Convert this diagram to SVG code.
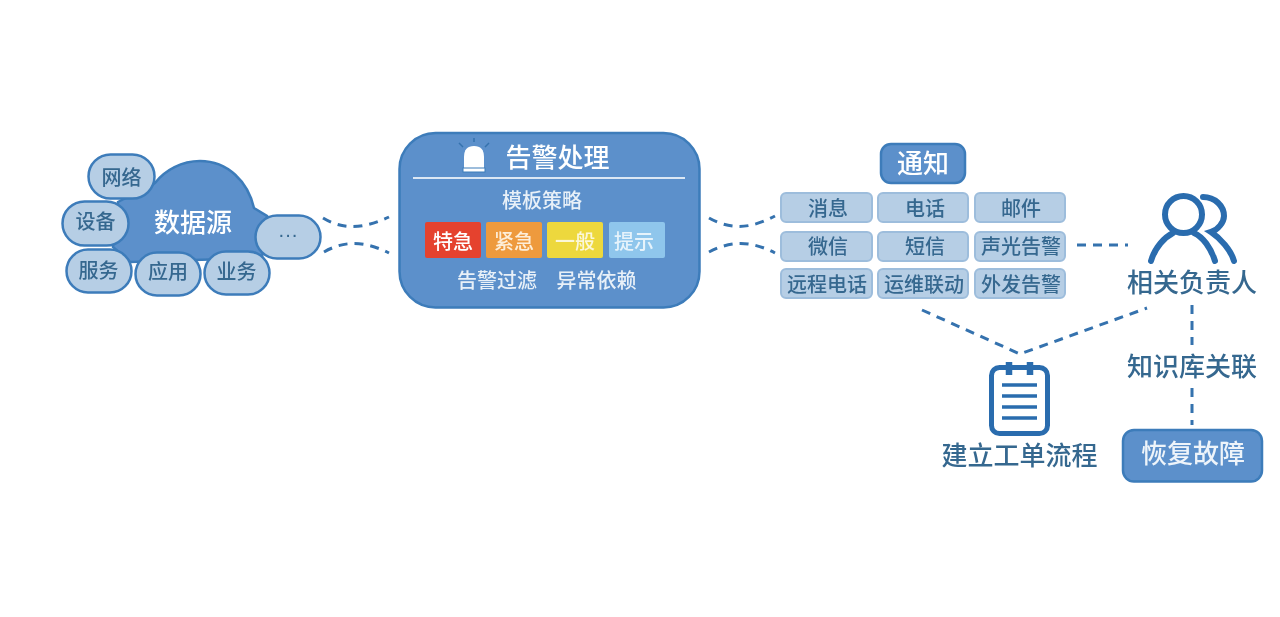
<svg xmlns="http://www.w3.org/2000/svg" width="1280" height="617" viewBox="0 0 1280 617">
<style>
text{font-family:"Noto Sans CJK SC","Liberation Sans",sans-serif;text-anchor:middle;dominant-baseline:central;font-weight:500}
.bub{fill:#b6cee5;stroke:#3d7cba;stroke-width:2.500}
.cell{fill:#b6cee5;stroke:#9dbddc;stroke-width:2}
.dk{fill:#36678f}
.wt{fill:#fff}
.s20{font-size:20px}
.s26{font-size:26px}
.dash{fill:none;stroke:#3572ae;stroke-width:3;stroke-dasharray:9 7}
.ic{fill:none;stroke:#2a6cae;stroke-width:6;stroke-linecap:round}
.ln{fill:none;stroke:#2a6cae;stroke-width:3.500}
</style>
<defs><filter id="soft" filterUnits="userSpaceOnUse" x="0" y="0" width="1280" height="617"><feGaussianBlur stdDeviation="0.6"/></filter></defs>
<rect width="1280" height="617" fill="#fff"/>
<g filter="url(#soft)">
<g id="connectors">
<path class="dash" d="M323,218C345,231 365,228 389,217"/>
<path class="dash" d="M324,252C345,240 365,241 389,253"/>
<path class="dash" d="M709,218C732,231 752,228 775,216"/>
<path class="dash" d="M709,252C732,240 752,241 775,253"/>
<path class="dash" d="M1077,245H1128"/>
<path class="dash" d="M922,310L1020,354L1147,308"/>
<path class="dash" d="M1192,305V345"/>
<path class="dash" d="M1192,388V425"/>
</g>
<g id="source">
<path d="M113,247L118,202C130,195 142,192 155,183C165,170 182,161 200,161C228,161 248,182 254,208L267,216L262,258L130,262Z" fill="#5b90cb" stroke="#3d7cba" stroke-width="2.500"/>
<text class="wt s26" x="193" y="220">数据源</text>
</g>
<g id="n-network"><rect class="bub" x="88.500" y="154.500" width="66" height="44" rx="22"/><text class="dk s20" x="121.500" y="176">网络</text></g>
<g id="n-device"><rect class="bub" x="62.500" y="201.500" width="66" height="44" rx="22"/><text class="dk s20" x="95.500" y="220">设备</text></g>
<g id="n-service"><rect class="bub" x="66.500" y="249.500" width="65" height="43" rx="21.500"/><text class="dk s20" x="98.500" y="269">服务</text></g>
<g id="n-app"><rect class="bub" x="135.500" y="252.500" width="65" height="43" rx="21.500"/><text class="dk s20" x="168" y="270">应用</text></g>
<g id="n-biz"><rect class="bub" x="204.500" y="251.500" width="65" height="43" rx="21.500"/><text class="dk s20" x="236.500" y="270">业务</text></g>
<g id="n-more"><rect class="bub" x="255.500" y="215.500" width="65" height="43" rx="21.500"/><text class="dk s20" style="font-family:'Liberation Sans',sans-serif" x="288" y="234">···</text></g>
<g id="alarm">
<rect x="399.500" y="133" width="300" height="174.500" rx="36" fill="#5b90cb" stroke="#3d7cba" stroke-width="2.500"/>
<path d="M464,171V157Q464,146 474,146Q484,146 484,157V171Z" fill="#fff"/>
<rect x="463" y="168" width="22" height="4" fill="#fff" stroke="#3d7cba" stroke-width="1"/>
<path d="M474,138V142M459,143L463,147M489,143L485,147" stroke="#3572ae" stroke-width="1.500" fill="none"/>
<text class="wt s26" x="557.500" y="155">告警处理</text>
<path d="M413,178H685" stroke="#dbe7f4" stroke-width="2"/>
<text class="s20" fill="#e8f0f8" x="542" y="199">模板策略</text>
<rect x="425" y="222" width="56" height="36" rx="2" fill="#e5432f"/>
<text class="wt s20" x="453" y="240">特急</text>
<rect x="486" y="222" width="56" height="36" rx="2" fill="#ee9a3e"/>
<text class="s20" fill="#fdeed8" x="514" y="240">紧急</text>
<rect x="547" y="222" width="56" height="36" rx="2" fill="#edd83d"/>
<text class="s20" fill="#fbf7d8" x="575" y="240">一般</text>
<rect x="609" y="222" width="56" height="36" rx="2" fill="#8fc6ec"/>
<text class="s20" fill="#e6f3fb" x="634" y="240">提示</text>
<text class="s20" fill="#e8f0f8" x="497" y="279">告警过滤</text>
<text class="s20" fill="#e8f0f8" x="596.500" y="279">异常依赖</text>
</g>
<g id="notify"><rect x="881" y="144" width="84" height="39" rx="10" fill="#5b90cb" stroke="#3d7cba" stroke-width="2.500"/><text class="wt s26" x="923" y="161">通知</text></g>
<g id="c1"><rect class="cell" x="781" y="193" width="91" height="29" rx="5"/><text class="dk s20" x="828" y="207">消息</text></g>
<g id="c2"><rect class="cell" x="878" y="193" width="90" height="29" rx="5"/><text class="dk s20" x="925" y="207">电话</text></g>
<g id="c3"><rect class="cell" x="975" y="193" width="90" height="29" rx="5"/><text class="dk s20" x="1021" y="207">邮件</text></g>
<g id="c4"><rect class="cell" x="781" y="232" width="91" height="29" rx="5"/><text class="dk s20" x="828" y="245">微信</text></g>
<g id="c5"><rect class="cell" x="878" y="232" width="90" height="29" rx="5"/><text class="dk s20" x="925" y="245">短信</text></g>
<g id="c6"><rect class="cell" x="975" y="232" width="90" height="29" rx="5"/><text class="dk s20" x="1021" y="245">声光告警</text></g>
<g id="c7"><rect class="cell" x="781" y="269" width="91" height="29" rx="5"/><text class="dk s20" x="827" y="283">远程电话</text></g>
<g id="c8"><rect class="cell" x="878" y="269" width="90" height="29" rx="5"/><text class="dk s20" x="924" y="283">运维联动</text></g>
<g id="c9"><rect class="cell" x="975" y="269" width="90" height="29" rx="5"/><text class="dk s20" x="1021" y="283">外发告警</text></g>
<g id="owner">
<circle class="ic" cx="1183.500" cy="214.500" r="18.500"/>
<path class="ic" d="M1151,261C1155,247 1165,237 1173,233M1194,233C1203,237 1211,248 1215,261"/>
<path class="ic" d="M1203,197C1215,197 1224,206 1224,216C1224,222 1218,230 1211,232C1220,238 1231,250 1234,261"/>
<text class="dk s26" x="1192" y="280">相关负责人</text>
</g>
<text id="kb" class="dk s26" x="1192" y="364">知识库关联</text>
<g id="ticket">
<rect x="991.500" y="367.500" width="56" height="66" rx="8" fill="none" stroke="#2a6cae" stroke-width="5"/>
<path d="M1009,362V375M1030,362V375" stroke="#2a6cae" stroke-width="6.500" fill="none"/>
<path class="ln" d="M1002,385H1037M1002,396H1037M1002,407H1037M1002,418H1037"/>
<text class="dk s26" x="1019.500" y="453">建立工单流程</text>
</g>
<g id="recover"><rect x="1123" y="430" width="139" height="51.500" rx="11" fill="#5b90cb" stroke="#3d7cba" stroke-width="2.500"/><text class="s26" fill="#eef4fa" x="1193" y="451">恢复故障</text></g>
</g>
</svg>
